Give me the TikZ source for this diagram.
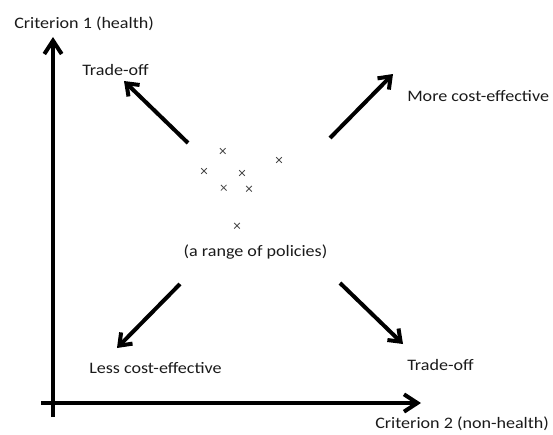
\documentclass[tikz,border=0pt]{standalone}
\usepackage{fontspec}
\setmainfont{Carlito}[FakeStretch=1.13]
\usetikzlibrary{arrows.meta,shapes.misc}
\definecolor{txt}{HTML}{1A1A1A}
\begin{document}
\begin{tikzpicture}[x=0.75pt,y=-0.75pt,
  lbl/.style={inner sep=0pt,anchor=west,text=txt,font=\fontsize{12}{14}\selectfont},
  axis/.style={line width=3.2pt,-{Straight Barb[length=10pt,width=13pt,line width=3pt]}},
  dirarrow/.style={line width=3pt,-{Straight Barb[length=8pt,width=12pt,line width=3pt]}},
  pt/.style={cross out,draw=black!70,line width=0.6pt,minimum size=3.6pt,inner sep=0pt}]
\useasboundingbox (0,0) rectangle (553,435);
% axes
\coordinate (ybot) at (53,417);
\coordinate (ytop) at (53,37);
\coordinate (xl) at (41,403);
\coordinate (xr) at (421,403);
\draw[axis] (ybot) -- (ytop);
\draw[axis] (xl) -- (xr);
% labels
\node[lbl] (c1) at (14,24) {Criterion 1 (health)};
\node[lbl] (c2) at (375,424) {Criterion 2 (non-health)};
\node[lbl] (tul) at (82,70) {Trade-off};
\node[lbl] (mce) at (407,96) {More cost-effective};
\node[lbl] (lce) at (89,368) {Less cost-effective};
\node[lbl] (tlr) at (407,365) {Trade-off};
\node[lbl,anchor=center] (rng) at (255.5,252) {(a range of policies)};
% direction arrows
\coordinate (a1s) at (188,143);
\coordinate (a1e) at (124,81);
\coordinate (a2s) at (330,138);
\coordinate (a2e) at (393,74);
\coordinate (a3s) at (180,284);
\coordinate (a3e) at (117,348);
\coordinate (a4s) at (340,283);
\coordinate (a4e) at (403,344);
\draw[dirarrow] (a1s) -- (a1e);
\draw[dirarrow] (a2s) -- (a2e);
\draw[dirarrow] (a3s) -- (a3e);
\draw[dirarrow] (a4s) -- (a4e);
% policies
\node[pt] (p1) at (222.7,151) {};
\node[pt] (p2) at (279,160) {};
\node[pt] (p3) at (204,171) {};
\node[pt] (p4) at (242,173) {};
\node[pt] (p5) at (223.7,187.7) {};
\node[pt] (p6) at (249,188.7) {};
\node[pt] (p7) at (237,225.7) {};
\end{tikzpicture}
\end{document}
